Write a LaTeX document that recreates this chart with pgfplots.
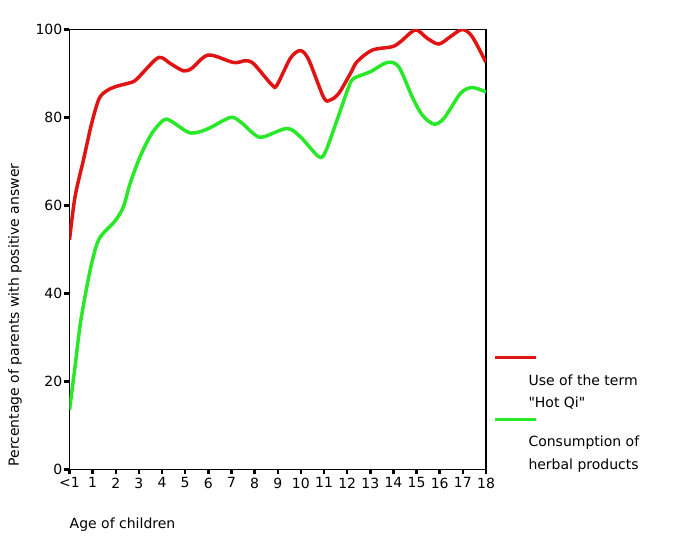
\documentclass[border=0pt]{standalone}
\usepackage{pgfplots}
\pgfplotsset{compat=1.18}
\usepackage{fontspec}
\setmainfont{DejaVu Sans}
\newfontfamily\plainfont{DejaVu Sans}[Ligatures=TeXOff]
\definecolor{lred}{RGB}{225,20,20}
\definecolor{lgreen}{RGB}{40,232,40}
\begin{document}
\fontsize{14pt}{17pt}\selectfont
\begin{tikzpicture}[x=1pt,y=1pt]
\useasboundingbox (0,0) rectangle (698,559);
\begin{axis}[
  at={(69.5pt,89.5pt)}, anchor=south west,
  scale only axis, width=416.5pt, height=440pt,
  xmin=0, xmax=18, ymin=0, ymax=100,
  xtick={0,...,18},
  xticklabels={<1,1,2,3,4,5,6,7,8,9,10,11,12,13,14,15,16,17,18},
  ytick={0,20,40,60,80,100},
  tick pos=left, tick align=outside,
  major tick length=5pt,
  every tick/.style={black, line width=2.5pt},
  axis line style={line width=1.5pt},
  /pgf/number format/assume math mode=true,
  tick label style={font=\fontsize{14pt}{17pt}\selectfont},
  xticklabel style={inner sep=3pt},
  yticklabel style={inner sep=2pt},
  every axis y label/.style={at={(axis description cs:-0.131,0.351)}, rotate=90, anchor=center},
  every axis x label/.style={at={(axis description cs:0,-0.126)}, anchor=west, inner sep=0pt},
  xlabel={Age of children},
  ylabel={Percentage of parents with positive answer},
  label style={font=\fontsize{14pt}{17pt}\selectfont},
]
\addplot[lred, line width=3.5pt, smooth, tension=0.5] coordinates {
(0,52.2) (0.24,62) (0.6,70.3) (0.96,78.7) (1.29,84.4) (1.68,86.3) (2.11,87.2) (2.62,87.9) (2.9,88.7) (3.7,93.1) (3.99,93.6) (4.35,92.3) (4.93,90.6) (5.29,91.2) (6.0,94.2) (7.09,92.5) (7.6,92.9) (7.96,92.2) (8.75,87.4) (8.97,87.4) (9.55,93.5) (9.98,95.2) (10.34,93.1) (10.99,84.5) (11.28,84.0) (11.64,85.5) (12.14,90.0) (12.43,92.7) (13.08,95.3) (13.95,96.1) (14.3,97.2) (14.95,99.9) (15.46,98) (15.96,96.7) (16.47,98.4) (16.97,100) (17.4,98.4) (18,92.5)
};
\addplot[lgreen, line width=3.5pt, smooth, tension=0.5] coordinates {
(0,13.5) (0.24,23.4) (0.45,32.5) (0.67,39.3) (0.96,46.9) (1.29,52.5) (1.97,56.5) (2.33,59.7) (2.62,65.0) (3.05,71.1) (3.56,76.4) (4.06,79.4) (4.35,79.3) (5.07,76.8) (5.43,76.5) (6.01,77.5) (6.95,80.0) (7.39,79.0) (8.03,76.0) (8.39,75.6) (9.4,77.5) (9.98,75.6) (10.77,71.1) (11.06,72.2) (11.56,79.4) (12.07,87.0) (12.29,88.9) (13.0,90.4) (13.73,92.5) (14.23,91.5) (14.81,84.7) (15.24,80.6) (15.74,78.5) (16.18,79.8) (16.9,85.5) (17.4,86.8) (18,85.8)
};
\end{axis}
% legend
\draw[lred, line width=3.5pt] (495,201.7) -- (536,201.7);
\node[anchor=base west, inner sep=0pt] at (528.3,173) {Use of the term};
\node[anchor=base west, inner sep=0pt] at (528.3,151) {{\plainfont "Hot Qi"}};
\draw[lgreen, line width=3.5pt] (495,139.7) -- (536,139.7);
\node[anchor=base west, inner sep=0pt] at (528.3,112.3) {Consumption of};
\node[anchor=base west, inner sep=0pt] at (528.3,89) {herbal products};
\end{tikzpicture}
\end{document}
